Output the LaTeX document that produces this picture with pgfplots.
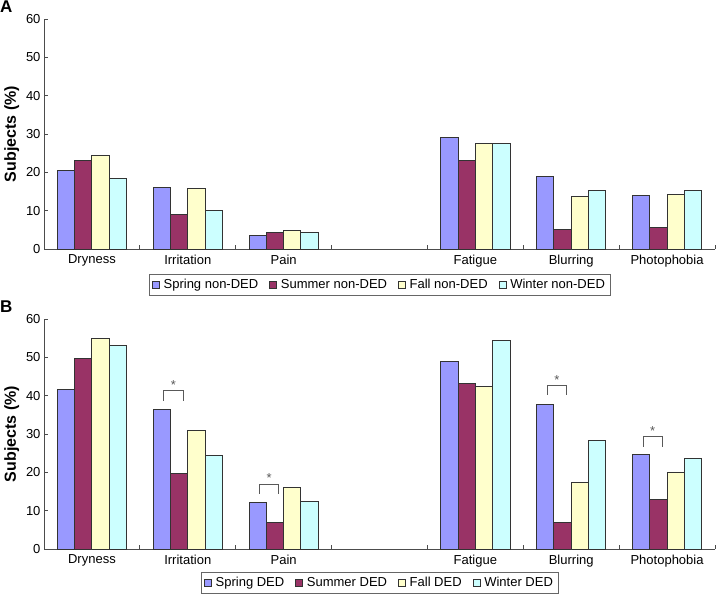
\documentclass[border=0pt]{standalone}
\usepackage{fontspec}
\setmainfont{Liberation Sans}
\usepackage{pgfplots}
\pgfplotsset{compat=1.18}
\definecolor{cspring}{HTML}{9999FF}
\definecolor{csummer}{HTML}{993366}
\definecolor{cfall}{HTML}{FFFFCC}
\definecolor{cwinter}{HTML}{CCFFFF}
\pgfplotsset{
  panel/.style={
    scale only axis, width=671pt, height=230pt,
    xmin=-0.5, xmax=6.5, ymin=0, ymax=60,
    axis x line*=bottom, axis y line*=left,
    axis line style={black!70, line width=0.8pt},
    xtick={0,...,6},
    xticklabels={Dryness,Irritation,Pain,{},Fatigue,Blurring,Photophobia},
    major x tick style={draw=none},
    minor xtick={0.5,1.5,...,6.5},
    minor tick length=4pt, major tick length=4pt,
    tick align=inside,
    tick style={black!70, line width=0.8pt},
    ytick={0,10,...,60},
    /pgf/number format/assume math mode=true,
    ticklabel style={font=\fontsize{13}{15}\selectfont},
    xticklabel style={yshift=-2.5pt},
    ylabel={Subjects (\%)},
    ylabel style={font=\fontsize{16}{18}\selectfont\bfseries},
    legend columns=4,
    legend style={at={(0.5,0)}, anchor=north, draw=black!60, line width=0.6pt,
      font=\fontsize{13}{15}\selectfont, inner sep=3pt,
      /tikz/every odd column/.append style={column sep=2pt},
      /tikz/every even column/.append style={column sep=9pt}},
    legend image code/.code={\draw[#1, line width=0.6pt] (0pt,-3.5pt) rectangle (7pt,3.5pt);},
  },
  bars/.style={ybar, bar width=17.3pt, draw=black!80, line width=0.9pt},
  brk/.style={sharp plot, black!65, line width=0.9pt, forget plot, mark=none},
}
\begin{document}
\begin{tikzpicture}
\path[use as bounding box] (0,0) rectangle (717pt,-597pt);
\node[anchor=north west, inner sep=0pt, font=\fontsize{17}{19}\selectfont\bfseries] at (0pt,-1pt) {A};
\node[anchor=north west, inner sep=0pt, font=\fontsize{17}{19}\selectfont\bfseries] at (0pt,-301pt) {B};

% Panel A: non-DED
\begin{axis}[panel, at={(44pt,-249pt)}, anchor=south west,
  legend style={yshift=-25pt}]
\addplot[bars, bar shift=-25.95pt, fill=cspring] coordinates {(0,20.4) (1,16.1) (2,3.6) (4,29.1) (5,19.0) (6,14.0)};
\addlegendentry{Spring non-DED}
\addplot[bars, bar shift=-8.65pt, fill=csummer] coordinates {(0,23.2) (1,9.1) (2,4.2) (4,23.0) (5,5.1) (6,5.7)};
\addlegendentry{Summer non-DED}
\addplot[bars, bar shift=8.65pt, fill=cfall] coordinates {(0,24.4) (1,15.8) (2,4.9) (4,27.5) (5,13.6) (6,14.3)};
\addlegendentry{Fall non-DED}
\addplot[bars, bar shift=25.95pt, fill=cwinter] coordinates {(0,18.3) (1,10.0) (2,4.3) (4,27.5) (5,15.2) (6,15.2)};
\addlegendentry{Winter non-DED}
\end{axis}

% Panel B: DED
\begin{axis}[panel, at={(44pt,-549pt)}, anchor=south west,
  legend style={yshift=-23pt}]
\addplot[bars, bar shift=-25.95pt, fill=cspring] coordinates {(0,41.7) (1,36.4) (2,12.2) (4,49.0) (5,37.8) (6,24.6)};
\addlegendentry{Spring DED}
\addplot[bars, bar shift=-8.65pt, fill=csummer] coordinates {(0,49.8) (1,19.6) (2,6.9) (4,43.1) (5,6.9) (6,12.8)};
\addlegendentry{Summer DED}
\addplot[bars, bar shift=8.65pt, fill=cfall] coordinates {(0,55.0) (1,31.0) (2,16.0) (4,42.4) (5,17.3) (6,20.1)};
\addlegendentry{Fall DED}
\addplot[bars, bar shift=25.95pt, fill=cwinter] coordinates {(0,53.0) (1,24.3) (2,12.5) (4,54.3) (5,28.4) (6,23.7)};
\addlegendentry{Winter DED}
% significance brackets
\addplot[brk] coordinates {(0.75,38.7) (0.75,41.3) (0.95,41.3) (0.95,38.7)};
\addplot[brk] coordinates {(1.75,14.4) (1.75,16.9) (1.95,16.9) (1.95,14.4)};
\addplot[brk] coordinates {(4.75,40.2) (4.75,42.6) (4.95,42.6) (4.95,40.2)};
\addplot[brk] coordinates {(5.75,26.7) (5.75,29.3) (5.95,29.3) (5.95,26.7)};
\node[black!65, font=\fontsize{13}{15}\selectfont] at (axis cs:0.85,42.9) {*};
\node[black!65, font=\fontsize{13}{15}\selectfont] at (axis cs:1.85,18.5) {*};
\node[black!65, font=\fontsize{13}{15}\selectfont] at (axis cs:4.85,44.2) {*};
\node[black!65, font=\fontsize{13}{15}\selectfont] at (axis cs:5.85,30.9) {*};
\end{axis}
\end{tikzpicture}
\end{document}
